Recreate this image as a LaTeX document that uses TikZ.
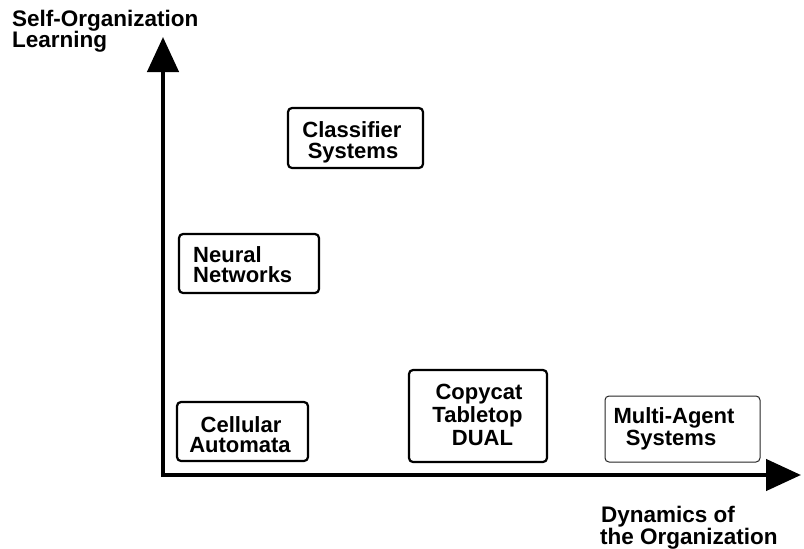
\documentclass[tikz,border=0pt]{standalone}
\usepackage{fontspec}
\setmainfont{Liberation Sans}
\usetikzlibrary{arrows.meta}
\begin{document}
\begin{tikzpicture}[x=1pt,y=-1pt,
  box/.style={draw=black, line width=2.2pt, rounded corners=4pt, inner sep=0pt},
  thinbox/.style={draw=black!85, line width=1pt, rounded corners=4pt, inner sep=0pt},
  lbl/.style={font=\fontsize{22}{21}\selectfont\bfseries, inner sep=0pt},
  axlbl/.style={font=\fontsize{22.5}{21}\selectfont\bfseries, inner sep=0pt, anchor=base west},
  axis/.style={line width=4.5pt, -{Triangle[length=35pt,width=31pt]}}
]
\useasboundingbox (0,0) rectangle (804,549);
\fill[white] (0,0) rectangle (804,549);

% axes
\coordinate (origin) at (163,477);
\coordinate (ytip) at (163,37);
\coordinate (corner) at (160.75,475);
\coordinate (xtip) at (801,475);
\draw[axis] (origin) -- (ytip);
\draw[axis] (corner) -- (xtip);

% axis labels
\node[axlbl] (ya) at (12,26) {Self-Organization};
\node[axlbl] (yb) at (12,47.5) {Learning};
\node[axlbl] (xa) at (601,522) {Dynamics of};
\node[axlbl] (xb) at (600,544) {the Organization};

% boxes
\node[box, minimum width=135pt, minimum height=60pt] (cls) at (355.5,138) {};
\node[lbl, anchor=base] (cls1) at (352,137) {Classifier};
\node[lbl, anchor=base] (cls2) at (353,158) {Systems};

\node[box, minimum width=140pt, minimum height=59pt] (nn) at (249,263.5) {};
\node[lbl, anchor=base west] (nn1) at (193,262) {Neural};
\node[lbl, anchor=base west] (nn2) at (193,282) {Networks};

\node[box, minimum width=131pt, minimum height=59pt] (ca) at (242.5,431.5) {};
\node[lbl, anchor=base] (ca1) at (241,432) {Cellular};
\node[lbl, anchor=base] (ca2) at (240,452) {Automata};

\node[box, minimum width=138pt, minimum height=92pt] (cc) at (478,416) {};
\node[lbl, anchor=base] (cc1) at (479,399) {Copycat};
\node[lbl, anchor=base] (cc2) at (477.5,422) {Tabletop};
\node[lbl, anchor=base] (cc3) at (482.5,445) {DUAL};

\node[thinbox, minimum width=155pt, minimum height=66pt] (ma) at (682.5,429) {};
\node[lbl, anchor=base] (ma1) at (674,423) {Multi-Agent};
\node[lbl, anchor=base] (ma2) at (671,445) {Systems};
\end{tikzpicture}
\end{document}
